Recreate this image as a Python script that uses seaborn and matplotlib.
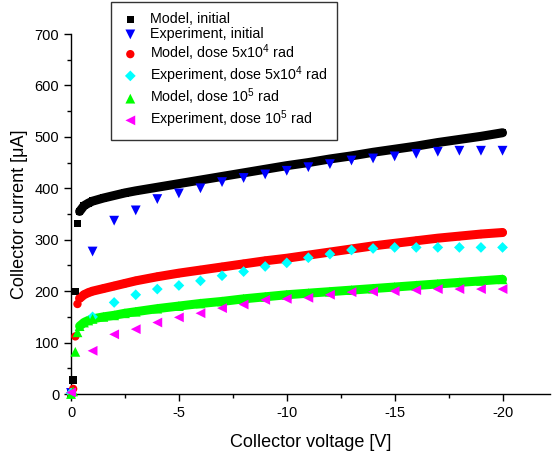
import numpy as np
import pandas as pd
import seaborn as sns
import matplotlib.pyplot as plt
from matplotlib.ticker import MultipleLocator

# model voltages: the first few points are separate, the rest form the curve
model_v_start = [0, -0.1, -0.2, -0.3]
model_v_curve = [-0.4, -0.6, -0.8, -1, -1.5, -2, -2.5, -3, -4, -5, -6, -7, -8, -9,
                 -10, -11, -12, -13, -14, -15, -16, -17, -18, -19, -20]

model_initial_start = [0, 27, 199, 331]
model_initial_curve = [355, 366, 371, 375, 381, 386, 391, 395, 402, 409, 416, 423, 430, 437,
                       444, 450, 457, 463, 470, 476, 482, 489, 495, 501, 508]

model_dose1_start = [0, 10, 112, 175]
model_dose1_curve = [186, 193, 197, 200, 205, 210, 215, 220, 228, 235, 241, 247, 253, 259,
                     264, 270, 276, 282, 288, 293, 298, 303, 307, 311, 314]

model_dose2_start = [0, 5, 82, 120]
model_dose2_curve = [132, 139, 143, 146, 150, 153, 157, 160, 166, 171, 176, 180, 185, 189,
                     193, 196, 199, 202, 205, 208, 211, 214, 217, 220, 223]

# experiment, measured every volt
exp_v = [0, -1, -2, -3, -4, -5, -6, -7, -8, -9, -10, -11, -12, -13, -14, -15, -16, -17, -18, -19, -20]
exp_initial = [2, 277, 337, 357, 379, 390, 400, 412, 420, 427, 434, 441, 447, 454, 458,
               462, 467, 471, 473, 473, 473]
exp_dose1 = [2, 150, 178, 193, 204, 211, 220, 230, 238, 248, 255, 265, 272, 280, 283,
             285, 285, 285, 285, 285, 285]
exp_dose2 = [3, 84, 116, 126, 139, 149, 157, 167, 174, 183, 185, 187, 193, 198, 199,
             200, 202, 204, 204, 204, 204]

sns.set_theme(style='ticks')
plt.rcParams['font.family'] = ['Liberation Sans', 'DejaVu Sans']
plt.rcParams['mathtext.default'] = 'regular'
plt.rcParams['text.color'] = 'black'
plt.rcParams['axes.labelcolor'] = 'black'
plt.rcParams['xtick.color'] = 'black'
plt.rcParams['ytick.color'] = 'black'

fig = plt.figure(figsize=(5.58, 4.57), dpi=100)
ax = fig.add_axes([71 / 558, 63 / 457, 479 / 558, 360 / 457])

series = [
    ('Model, initial', 'model', model_initial_start, model_initial_curve, 's', '#000000', 28),
    ('Experiment, initial', 'exp', None, exp_initial, 'v', '#0000ff', 50),
    ('Model, dose 5x10$^4$ rad', 'model', model_dose1_start, model_dose1_curve, 'o', '#ff0000', 36),
    ('Experiment, dose 5x10$^4$ rad', 'exp', None, exp_dose1, 'D', '#00ffff', 30),
    ('Model, dose 10$^5$ rad', 'model', model_dose2_start, model_dose2_curve, '^', '#00ff00', 50),
    ('Experiment, dose 10$^5$ rad', 'exp', None, exp_dose2, '<', '#ff00ff', 50),
]

for label, kind, start, values, marker, color, size in series:
    if kind == 'model':
        v = model_v_start + model_v_curve
        i = start + values
        # the dense model points look like a thick band
        curve = pd.DataFrame({'v': model_v_curve, 'i': values})
        sns.lineplot(data=curve, x='v', y='i', color=color, linewidth=6.5, sort=False,
                     estimator=None, legend=False, ax=ax)
    else:
        v = exp_v
        i = values
    df = pd.DataFrame({'v': v, 'i': i})
    sns.scatterplot(data=df, x='v', y='i', marker=marker, color=color, s=size,
                    edgecolor='none', label=label, clip_on=False, zorder=3, ax=ax)

ax.set_xlim(0, -22.2)
ax.set_ylim(0, 700)
ax.xaxis.set_minor_locator(MultipleLocator(2.5))
ax.yaxis.set_major_locator(MultipleLocator(100))
ax.yaxis.set_minor_locator(MultipleLocator(50))
ax.set_xticks([0, -5, -10, -15, -20])
ax.set_xticklabels(['0', '-5', '-10', '-15', '-20'])
ax.tick_params(which='major', direction='out', length=5, width=1, labelsize=10.5)
ax.tick_params(which='minor', direction='out', length=3, width=1)
sns.despine(ax=ax)
for sp in ['left', 'bottom']:
    ax.spines[sp].set_color('black')
    ax.spines[sp].set_linewidth(1)

ax.set_xlabel('Collector voltage [V]', fontsize=13, labelpad=10)
ax.set_ylabel('Collector current [\u03bcA]', fontsize=13, labelpad=5)

leg = ax.legend(loc='upper left', bbox_to_anchor=(111 / 558, 1 - 2 / 457),
                bbox_transform=fig.transFigure, fontsize=10.3, frameon=True,
                fancybox=False, labelspacing=0.08, handletextpad=0.7,
                borderpad=0.7, handlelength=1.3, borderaxespad=0)
leg.get_frame().set_edgecolor('black')
leg.get_frame().set_linewidth(1)

fig.savefig('out.png', dpi=100)
